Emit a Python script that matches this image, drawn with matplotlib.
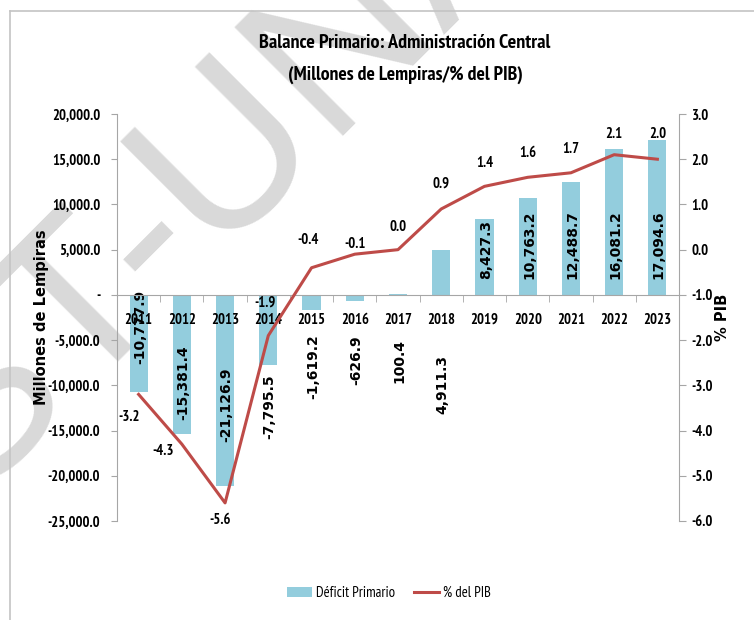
import matplotlib
matplotlib.use("Agg")
import matplotlib.pyplot as plt
from matplotlib.ticker import FuncFormatter, FixedLocator
from matplotlib.lines import Line2D
from matplotlib.patches import Patch

years = ["2011", "2012", "2013", "2014", "2015", "2016", "2017",
         "2018", "2019", "2020", "2021", "2022", "2023"]
deficit = [-10777.9, -15381.4, -21126.9, -7795.5, -1619.2, -626.9, 100.4,
           4911.3, 8427.3, 10763.2, 12488.7, 16081.2, 17094.6]
pib = [-3.2, -4.3, -5.6, -1.9, -0.4, -0.1, 0.0, 0.9, 1.4, 1.6, 1.7, 2.1, 2.0]

# label placement (pixels from the anchor), layout only
bar_lbl_dy = [-32, -88, -110, -112, -72, -65, -66, -90, 16, 16, 16, 16, 16]
pib_lbl_off = [(-9, -23), (-19, -7), (-5, -17), (-3, 33), (-3, 28), (0, 10),
               (0, 23), (0, 25), (0, 23), (0, 24), (0, 24), (0, 21), (0, 25)]

NARROW = ["PT Sans Narrow", "DejaVu Sans"]
WIDE = ["DejaVu Sans"]
BAR_C = "#93CDDD"
LINE_C = "#BE4B48"
GRAY = "#a6a6a6"
PX = 0.72  # pixels -> points at dpi 100

plt.rcParams["font.family"] = NARROW

W, H = 754, 620
fig = plt.figure(figsize=(W / 100, H / 100), dpi=100)
fig.patch.set_facecolor("white")


def fit_width(txt, target_px):
    r = fig.canvas.get_renderer()
    w = txt.get_window_extent(r).width
    txt.set_fontsize(txt.get_fontsize() * target_px / w)


# watermark
fig.text(218 / W, 1 - 170 / H, "ST-UNA", rotation=45, fontsize=160,
         color="#d9d9d9", ha="center", va="center", zorder=-1,
         family=["Liberation Sans", "DejaVu Sans"])

# chart border
fig.add_artist(Line2D([10 / W, 10 / W], [0, 1 - 11 / H], transform=fig.transFigure,
                      color="#c4c4c4", lw=1.2))
fig.add_artist(Line2D([10 / W, 1], [1 - 11 / H, 1 - 11 / H], transform=fig.transFigure,
                      color="#c4c4c4", lw=1.2))

ax = fig.add_axes([117 / W, 1 - 521 / H, (679 - 117) / W, (521 - 114) / H])
ax.patch.set_visible(False)
x = list(range(len(years)))

ax.bar(x, deficit, width=0.42, color=BAR_C, zorder=1)
ax.set_xlim(-0.5, len(years) - 0.5)
ax.set_ylim(-25000, 20000)
ax.yaxis.set_major_locator(FixedLocator(range(-25000, 20001, 5000)))
ax.yaxis.set_major_formatter(FuncFormatter(lambda v, _: "-" if v == 0 else f"{v:,.1f}"))
ax.tick_params(axis="y", direction="out", length=4, color=GRAY, pad=8,
               labelsize=10.5)
for t in ax.get_yticklabels():
    t.set_fontweight("bold")

ax.spines["top"].set_visible(False)
ax.spines["right"].set_visible(False)
ax.spines["left"].set_color(GRAY)
ax.spines["bottom"].set_position(("data", 0))
ax.spines["bottom"].set_color(GRAY)

ax.set_xticks(x)
ax.set_xticklabels(years, fontsize=10.5, fontweight="bold")
ax.set_xticks([i - 0.5 for i in range(len(years) + 1)], minor=True)
ax.tick_params(axis="x", which="major", length=0, pad=13)
ax.tick_params(axis="x", which="minor", length=5, direction="out", color=GRAY)

for xi, v, dy in zip(x, deficit, bar_lbl_dy):
    ax.annotate(f"{v:,.1f}", (xi, 0), xytext=(1, dy * PX), textcoords="offset points",
                rotation=90, ha="center", va="bottom" if dy > 0 else "center",
                family=WIDE, fontweight="bold", fontsize=10, zorder=1.2)

ax.set_ylabel("Millones de Lempiras", family=WIDE, fontweight="bold", fontsize=10.5)
ax.yaxis.set_label_coords((49 - 117) / (679 - 117), 0.5)

ax2 = ax.twinx()
ax2.patch.set_visible(False)
ax2.plot(x, pib, color=LINE_C, lw=2.2, zorder=4)
ax2.set_ylim(-6, 3)
ax2.yaxis.set_major_locator(FixedLocator(range(-6, 4)))
ax2.yaxis.set_major_formatter(FuncFormatter(lambda v, _: f"{v:.1f}"))
ax2.tick_params(axis="y", direction="out", length=5, color=GRAY, pad=4, labelsize=10.5)
for t in ax2.get_yticklabels():
    t.set_fontweight("bold")
for s in ["top", "left", "bottom"]:
    ax2.spines[s].set_visible(False)
ax2.spines["right"].set_color(GRAY)

for xi, v, (dx, dy) in zip(x, pib, pib_lbl_off):
    ax2.annotate(f"{v:.1f}", (xi, v), xytext=(dx * PX, dy * PX), textcoords="offset points",
                 ha="center", va="center", fontsize=10.5, fontweight="bold")

ax2.set_ylabel("% PIB", family=WIDE, fontweight="bold", fontsize=10.5)
ax2.yaxis.set_label_coords((715 - 117) / (679 - 117), 0.5)

t1 = fig.text(405 / W, 1 - 43 / H, "Balance Primario: Administración Central",
              ha="center", va="center", fontsize=14, fontweight="bold")
t2 = fig.text(405 / W, 1 - 75 / H, "(Millones de Lempiras/% del PIB)",
              ha="center", va="center", fontsize=14, fontweight="bold")
fit_width(t1, 294)
fit_width(t2, 237)

handles = [Patch(facecolor=BAR_C, edgecolor="none", label="Déficit Primario"),
           Line2D([0], [0], color=LINE_C, lw=2.2, label="% del PIB")]
fig.legend(handles=handles, loc="center", bbox_to_anchor=(389 / W, 1 - 593 / H),
           ncol=2, frameon=False, fontsize=10.5, handlelength=1.7,
           handletextpad=0.3, columnspacing=1.3)

fig.savefig("out.png", dpi=100)
